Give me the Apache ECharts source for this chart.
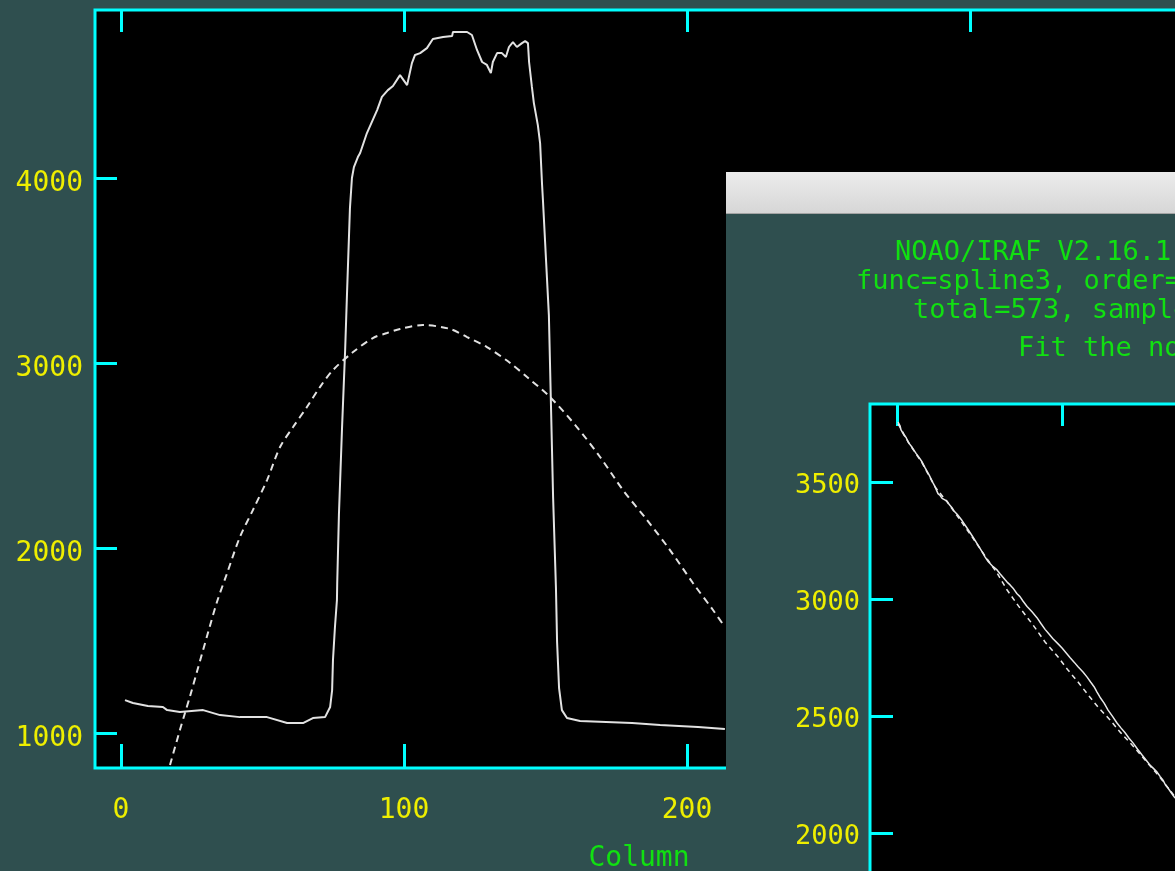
<!DOCTYPE html>
<html>
<head>
<meta charset="utf-8">
<title>Column profile</title>
<script src="https://cdn.jsdelivr.net/npm/echarts@6/dist/echarts.min.js"></script>
<style>
  html, body { margin: 0; padding: 0; background: #2f4f4f; }
  #chart { width: 1175px; height: 871px; }
</style>
</head>
<body>
<div id="chart"></div>
<script>
// Cross-dispersion profile along the slit (solid) and its smooth fit (dashed)
const profileCol = [1.4, 4.2, 9.5, 14.8, 16.3, 20.8, 29.0, 35.0, 42.0, 51.6, 58.7, 64.3, 67.8, 72.1, 73.9, 74.6, 74.9, 75.6, 76.3, 76.4,
  77.0, 78.1, 79.2, 79.9, 80.9, 81.6, 82.3, 83.7, 84.5, 86.9, 90.5, 92.2, 94.3, 96.1, 98.6, 101.1, 102.8, 103.9, 105.7, 108.1,
  110.2, 113.8, 117.0, 117.3, 122.3, 124.0, 125.8, 127.6, 129.3, 130.7, 131.4, 132.9, 134.6, 136.0, 137.1, 138.5, 139.9, 141.7, 142.8, 143.8,
  144.2, 145.2, 145.9, 147.3, 148.1, 148.8, 149.1, 151.2, 152.7, 153.7, 154.1, 154.8, 155.8, 157.6, 162.2, 180.6, 190.5, 203.9, 213.4];
const profileFlux = [1178, 1162, 1146, 1141, 1124, 1114, 1124, 1097, 1086, 1086, 1054, 1054, 1081, 1086, 1141, 1232, 1395, 1573, 1719, 1811,
  2178, 2649, 3070, 3394, 3838, 4000, 4059, 4113, 4135, 4243, 4367, 4438, 4475, 4497, 4556, 4502, 4621, 4665, 4675, 4702,
  4751, 4762, 4767, 4789, 4789, 4773, 4692, 4627, 4611, 4567, 4627, 4675, 4675, 4654, 4708, 4735, 4708, 4729, 4740, 4729,
  4627, 4492, 4405, 4286, 4189, 3962, 3881, 3259, 2270, 1784, 1492, 1243, 1124, 1081, 1065, 1054, 1043, 1032, 1022];

const profileFitCol = [17.3, 20.8, 22.6, 24.4, 26.9, 30.4, 33.9, 37.5, 42.0, 46.6, 51.6, 56.2, 60.8, 65.7, 70.3, 74.9, 82.0, 89.0,
  94.0, 98.6, 106.7, 116.3, 122.3, 129.3, 137.5, 143.5, 151.6, 161.1, 169.3, 177.4, 185.9, 194.0, 202.1, 209.2, 213.4];
const profileFitFlux = [827, 1016, 1108, 1200, 1335, 1524, 1708, 1865, 2059, 2205, 2367, 2546, 2654, 2762, 2870, 2962, 3059, 3135,
  3162, 3184, 3205, 3184, 3140, 3086, 3000, 2924, 2816, 2654, 2492, 2313, 2151, 1989, 1811, 1665, 1573];

// Normalization spectrum along the dispersion (solid) and spline3 fit (dashed)
const normCol = [0.6, 1.8, 2.4, 3.0, 4.2, 5.5, 6.7, 7.9, 9.1, 10.3, 11.5, 12.1, 13.3, 13.9, 15.2, 16.4, 17.0, 18.2, 19.4, 20.0,
  21.8, 23.0, 23.6, 24.8, 26.1, 27.3, 28.5, 30.3, 31.5, 32.1, 33.3, 34.5, 35.2, 36.4, 37.6, 39.4, 40.6, 42.4, 43.6, 45.5,
  46.7, 48.5, 49.7, 51.5, 52.7, 53.3, 54.5, 55.2, 56.4, 58.2, 59.4, 60.6, 62.4, 63.6, 65.5, 66.7, 68.5, 70.3, 72.7, 74.5,
  76.4, 78.8, 81.8, 84.8, 87.2, 89.7, 92.1, 94.5, 97.6, 100.0, 102.4, 104.8, 107.3, 109.7, 112.7, 115.2, 117.3, 119.4, 121.2, 123.0,
  125.5, 127.9, 130.6, 133.3, 135.8, 138.2, 140.6, 143.0, 145.8, 148.5, 150.9, 153.3, 155.5, 157.6, 159.4, 161.2, 162.7, 164.2, 166.4, 168.5];
const normFlux = [3756, 3740, 3722, 3730, 3700, 3690, 3670, 3675, 3648, 3640, 3622, 3630, 3605, 3610, 3585, 3578, 3560, 3555, 3530, 3535,
  3496, 3480, 3472, 3450, 3442, 3430, 3432, 3418, 3405, 3400, 3390, 3376, 3380, 3362, 3355, 3335, 3328, 3303, 3298, 3270,
  3262, 3236, 3230, 3202, 3195, 3180, 3172, 3160, 3158, 3138, 3130, 3124, 3108, 3100, 3082, 3072, 3060, 3046, 3022, 3010,
  2990, 2968, 2945, 2920, 2895, 2870, 2850, 2830, 2808, 2790, 2770, 2750, 2730, 2710, 2688, 2666, 2645, 2625, 2602, 2580,
  2555, 2525, 2498, 2470, 2448, 2428, 2405, 2385, 2358, 2333, 2312, 2290, 2275, 2260, 2242, 2226, 2205, 2192, 2170, 2149];

const normFitCol = [0.6, 7.9, 15.2, 23.0, 30.3, 38.2, 45.5, 53.3, 60.6, 66.7, 74.5, 82.4, 89.7, 97.6, 103.6, 109.7, 115.8, 121.8,
  129.1, 135.2, 143.0, 150.3, 158.2, 168.5];
const normFitFlux = [3748, 3658, 3581, 3479, 3415, 3338, 3265, 3184, 3111, 3038, 2961, 2889, 2816, 2752, 2696, 2645, 2590, 2538,
  2483, 2431, 2372, 2312, 2248, 2154];

// Tick values
const profileColTicks = [0, 100, 200, 300];
const profileFluxTicks = [1000, 2000, 3000, 4000];
const normColTicks = [0, 100, 200, 300, 400, 500];
const normFluxTicks = [2000, 2500, 3000, 3500];

const headerLines = [
  'NOAO/IRAF V2.16.1',
  'func=spline3, order=',
  'total=573, sample',
  'Fit the nor'
];

const pairs = (xs, ys) => xs.map((x, i) => [x, ys[i]]);
const plain = v => String(v);

const CYAN = '#00ffff';
const YELLOW = '#eeee00';
const GREEN = '#11e011';
const SLATE = '#2f4f4f';
const MONO = 'DejaVu Sans Mono';

function tickAxisStyle(values, len) {
  return {
    show: true,
    inside: true,
    length: len,
    customValues: values,
    lineStyle: { color: CYAN, width: 3 }
  };
}
const hiddenLine = { show: false, onZero: false };

const chart = echarts.init(document.getElementById('chart'), null, { renderer: 'canvas' });

const option = {
  animation: false,
  backgroundColor: SLATE,
  grid: [
    {
      left: 95, top: 10, width: 1088, height: 758, outerBoundsMode: 'none', containLabel: false,
      show: true, backgroundColor: '#000000', borderColor: CYAN, borderWidth: 3, z: 0
    },
    {
      left: 870, top: 404, width: 1000, height: 546, outerBoundsMode: 'none', containLabel: false,
      show: true, backgroundColor: '#000000', borderColor: CYAN, borderWidth: 3, z: 20
    }
  ],
  xAxis: [
    {
      gridIndex: 0, type: 'value', position: 'bottom', min: -9.2, max: 375.3,
      axisLine: hiddenLine, splitLine: { show: false },
      axisTick: tickAxisStyle(profileColTicks, 24),
      axisLabel: { customValues: profileColTicks, formatter: plain, color: YELLOW, fontFamily: MONO, fontSize: 28, margin: 29 },
      name: 'Column', nameLocation: 'middle', nameGap: 77,
      nameTextStyle: { color: GREEN, fontFamily: MONO, fontSize: 28 },
      z: 0
    },
    {
      gridIndex: 0, type: 'value', position: 'top', min: -9.2, max: 375.3,
      axisLine: hiddenLine, splitLine: { show: false },
      axisTick: tickAxisStyle(profileColTicks, 22),
      axisLabel: { show: false },
      z: 0
    },
    {
      gridIndex: 1, type: 'value', position: 'top', min: -16.4, max: 589.7,
      axisLine: hiddenLine, splitLine: { show: false },
      axisTick: tickAxisStyle(normColTicks, 22),
      axisLabel: { show: false },
      z: 21
    }
  ],
  yAxis: [
    {
      gridIndex: 0, type: 'value', position: 'left', min: 811, max: 4908,
      axisLine: hiddenLine, splitLine: { show: false },
      axisTick: tickAxisStyle(profileFluxTicks, 22),
      axisLabel: {
        customValues: profileFluxTicks, formatter: plain, color: YELLOW, fontFamily: MONO, fontSize: 28,
        margin: 12, verticalAlign: 'top', lineHeight: 12
      },
      z: 0
    },
    {
      gridIndex: 1, type: 'value', position: 'left', min: 1500, max: 3833,
      axisLine: hiddenLine, splitLine: { show: false },
      axisTick: tickAxisStyle(normFluxTicks, 23),
      axisLabel: {
        customValues: normFluxTicks, formatter: plain, color: YELLOW, fontFamily: MONO, fontSize: 27,
        margin: 10, verticalAlign: 'top', lineHeight: 9
      },
      z: 21
    }
  ],
  series: [
    {
      type: 'line', xAxisIndex: 0, yAxisIndex: 0, data: pairs(profileCol, profileFlux),
      showSymbol: false, clip: true, z: 2,
      lineStyle: { color: '#e2e2e2', width: 2 }
    },
    {
      type: 'line', xAxisIndex: 0, yAxisIndex: 0, data: pairs(profileFitCol, profileFitFlux),
      showSymbol: false, clip: true, z: 2, smooth: 0.3,
      lineStyle: { color: '#e2e2e2', width: 2, type: [7, 5] }
    },
    {
      type: 'line', xAxisIndex: 2, yAxisIndex: 1, data: pairs(normCol, normFlux),
      showSymbol: false, clip: true, z: 22,
      lineStyle: { color: '#e8e8e8', width: 1.5 }
    },
    {
      type: 'line', xAxisIndex: 2, yAxisIndex: 1, data: pairs(normFitCol, normFitFlux),
      showSymbol: false, clip: true, z: 22,
      lineStyle: { color: '#e8e8e8', width: 1.5, type: [5, 4] }
    }
  ],
  graphic: [
    {
      type: 'rect', z: 10, silent: true,
      shape: { x: 726, y: 214, width: 460, height: 670 },
      style: { fill: SLATE }
    },
    {
      type: 'rect', z: 10, silent: true,
      shape: { x: 726, y: 172, width: 460, height: 42 },
      style: {
        fill: new echarts.graphic.LinearGradient(0, 0, 0, 1, [
          { offset: 0, color: '#ececec' },
          { offset: 1, color: '#d6d6d6' }
        ])
      }
    },
    {
      type: 'line', z: 11, silent: true,
      shape: { x1: 726, y1: 213.5, x2: 1186, y2: 213.5 },
      style: { stroke: '#a4a4a4', lineWidth: 1 }
    },
    { type: 'text', z: 11, silent: true, x: 895, y: 253,
      style: { text: headerLines[0], fill: GREEN, font: '27px "DejaVu Sans Mono"', verticalAlign: 'middle' } },
    { type: 'text', z: 11, silent: true, x: 856, y: 282,
      style: { text: headerLines[1], fill: GREEN, font: '27px "DejaVu Sans Mono"', verticalAlign: 'middle' } },
    { type: 'text', z: 11, silent: true, x: 913, y: 311,
      style: { text: headerLines[2], fill: GREEN, font: '27px "DejaVu Sans Mono"', verticalAlign: 'middle' } },
    { type: 'text', z: 11, silent: true, x: 1018, y: 349,
      style: { text: headerLines[3], fill: GREEN, font: '27px "DejaVu Sans Mono"', verticalAlign: 'middle' } }
  ]
};

chart.setOption(option);
</script>
</body>
</html>
